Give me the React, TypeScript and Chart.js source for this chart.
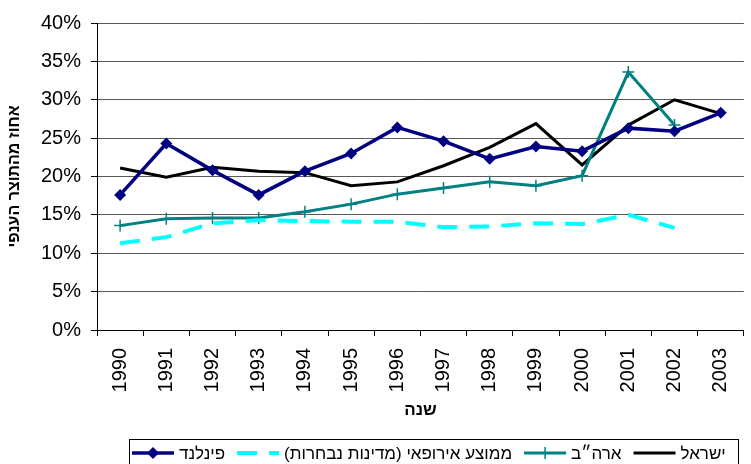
import React, { useEffect, useRef } from "react";
import { Chart, registerables } from "chart.js";

Chart.register(...registerables);

const years = ["1990", "1991", "1992", "1993", "1994", "1995", "1996", "1997", "1998", "1999", "2000", "2001", "2002", "2003"];
const finland = [17.6, 24.3, 20.8, 17.6, 20.7, 23.0, 26.4, 24.6, 22.3, 23.9, 23.3, 26.3, 25.9, 28.3];
const europe = [11.3, 12.1, 13.9, 14.3, 14.2, 14.1, 14.1, 13.4, 13.5, 13.9, 13.8, 15.0, 13.3, null];
const usa = [13.6, 14.5, 14.6, 14.6, 15.4, 16.4, 17.7, 18.5, 19.3, 18.8, 20.1, 33.6, 26.7, null];
const israel = [21.1, 19.9, 21.2, 20.7, 20.5, 18.8, 19.3, 21.4, 23.8, 26.9, 21.5, 26.7, 30.0, 28.2];

const seriesNames = ["פינלנד", "ממוצע אירופאי (מדינות נבחרות)", "ארה״ב", "ישראל"];
const yTitle = "אחוז מהתוצר הענפי";
const xTitle = "שנה";

const FONT = '"Liberation Sans", Arial, sans-serif';

function drawMarker(ctx: CanvasRenderingContext2D, style: string, color: string, x: number, y: number) {
  ctx.save();
  ctx.setLineDash([]);
  if (style === "rectRot") {
    ctx.fillStyle = color;
    ctx.beginPath();
    ctx.moveTo(x, y - 6);
    ctx.lineTo(x + 6, y);
    ctx.lineTo(x, y + 6);
    ctx.lineTo(x - 6, y);
    ctx.closePath();
    ctx.fill();
  } else if (style === "cross") {
    ctx.strokeStyle = color;
    ctx.lineWidth = 1.5;
    ctx.beginPath();
    ctx.moveTo(x - 6, y);
    ctx.lineTo(x + 6, y);
    ctx.moveTo(x, y - 6);
    ctx.lineTo(x, y + 6);
    ctx.stroke();
  }
  ctx.restore();
}

const legendPlugin = {
  id: "customLegend",
  afterDraw(chart: any) {
    const ctx: CanvasRenderingContext2D = chart.ctx;
    ctx.save();
    ctx.strokeStyle = "#000";
    ctx.lineWidth = 1;
    ctx.setLineDash([]);
    ctx.strokeRect(129.5, 439.5, 609, 40);
    ctx.font = `17px ${FONT}`;
    ctx.textBaseline = "middle";
    (ctx as any).direction = "rtl";
    ctx.textAlign = "left";
    const y = 453;
    let x = 132;
    chart.data.datasets.forEach((ds: any) => {
      ctx.save();
      ctx.strokeStyle = ds.borderColor;
      ctx.lineWidth = ds.borderWidth;
      ctx.setLineDash(ds.borderDash || []);
      ctx.beginPath();
      ctx.moveTo(x, y);
      ctx.lineTo(x + 42, y);
      ctx.stroke();
      ctx.restore();
      if (ds.pointRadius > 0) drawMarker(ctx, ds.pointStyle, ds.borderColor, x + 21, y);
      ctx.fillStyle = "#000";
      ctx.fillText(ds.label, x + 47, y + 1);
      const w = ctx.measureText(ds.label).width;
      x += 47 + w + 12;
    });
    ctx.restore();
  },
};

export default function App() {
  const ref = useRef<HTMLCanvasElement | null>(null);
  useEffect(() => {
    if (!ref.current) return;
    const chart = new Chart(ref.current, {
      type: "line",
      data: {
        labels: years,
        datasets: [
          {
            label: seriesNames[0],
            data: finland,
            borderColor: "#000080",
            backgroundColor: "#000080",
            borderWidth: 3.5,
            pointStyle: "rectRot",
            pointRadius: 6,
            pointBorderWidth: 0,
            pointBackgroundColor: "#000080",
            tension: 0,
          },
          {
            label: seriesNames[1],
            data: europe,
            borderColor: "#00FFFF",
            backgroundColor: "#00FFFF",
            borderWidth: 4,
            borderDash: [20, 12],
            pointRadius: 0,
            tension: 0,
          },
          {
            label: seriesNames[2],
            data: usa,
            borderColor: "#008080",
            backgroundColor: "#008080",
            borderWidth: 3,
            pointStyle: "cross",
            pointRadius: 6,
            pointBorderWidth: 1.5,
            pointBorderColor: "#008080",
            tension: 0,
          },
          {
            label: seriesNames[3],
            data: israel,
            borderColor: "#000000",
            backgroundColor: "#000000",
            borderWidth: 3,
            pointRadius: 0,
            tension: 0,
          },
        ] as any,
      },
      options: {
        responsive: false,
        animation: false,
        devicePixelRatio: 1,
        layout: { padding: { left: 0, top: 23, right: 0, bottom: 43 } },
        plugins: {
          legend: { display: false },
          tooltip: { enabled: false },
        },
        scales: {
          x: {
            type: "category",
            offset: true,
            grid: {
              offset: true,
              drawOnChartArea: false,
              drawTicks: true,
              tickLength: 6,
              color: "#000",
            },
            border: { color: "#000", width: 1 },
            ticks: {
              autoSkip: false,
              minRotation: 90,
              maxRotation: 90,
              padding: 12,
              color: "#000",
              font: { family: FONT, size: 20 },
            },
            title: {
              display: true,
              text: xTitle,
              color: "#000",
              font: { family: FONT, size: 17, weight: "bold" },
              padding: { top: 0, bottom: 0 },
            },
            afterFit: (scale: any) => {
              scale.height = 91;
            },
          },
          y: {
            min: 0,
            max: 40,
            grid: {
              color: "#5a5a5a",
              lineWidth: 1,
              tickLength: 6,
              tickColor: "#000",
            },
            border: { color: "#000", width: 1 },
            ticks: {
              stepSize: 5,
              padding: 10,
              color: "#000",
              font: { family: FONT, size: 20 },
              callback: (v: any) => `${v}%`,
            },
            title: {
              display: true,
              text: yTitle,
              color: "#000",
              font: { family: FONT, size: 16, weight: "bold" },
              padding: { top: 5, bottom: 0 },
            },
            afterFit: (scale: any) => {
              scale.width = 97;
            },
          },
        },
      } as any,
      plugins: [legendPlugin],
    });
    return () => chart.destroy();
  }, []);
  return (
    <div style={{ position: "absolute", left: 0, top: 0, width: 751, height: 464, overflow: "hidden", background: "#fff" }}>
      <canvas ref={ref} width={757} height={464} style={{ display: "block", width: 757, height: 464 }} />
    </div>
  );
}
